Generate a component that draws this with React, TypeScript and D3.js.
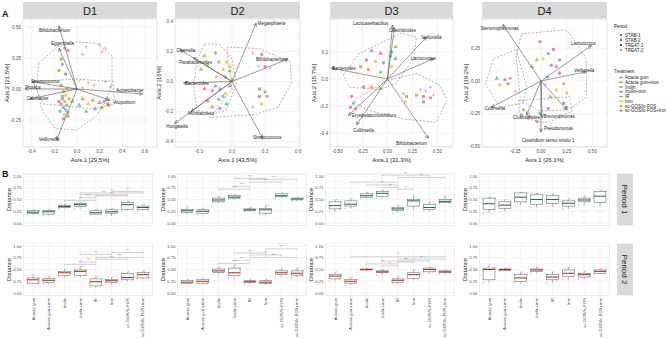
import React from 'react';
import * as d3 from 'd3';

const treatments = ['Acacia gum', 'Acacia gum+iron', 'Inulin', 'Inulin+iron', 'IR', 'Iron', 'sc-GOS/lc-FOS', 'sc-GOS/lc-FOS+iron'];
const treatmentColors = ['#1B9E77', '#D95F02', '#7570B3', '#E7298A', '#66A61E', '#E6AB02', '#A6761D', '#666666'];
const periods = ['STAB-1', 'STAB-2', 'TREAT-1', 'TREAT-2'];

// ordination scores: [axis1, axis2, treatment, period]
const pointsD1 = [
  [-0.12, -0.02, 1, 0], [-0.10, -0.05, 5, 0], [-0.13, -0.08, 0, 0], [-0.11, -0.10, 4, 0], [-0.14, -0.12, 3, 0],
  [-0.09, -0.13, 6, 0], [-0.12, -0.15, 0, 2], [-0.10, -0.17, 2, 0], [-0.15, -0.18, 0, 0], [-0.08, -0.19, 4, 2],
  [-0.11, -0.21, 5, 0], [-0.13, -0.06, 6, 2], [-0.07, -0.08, 1, 2], [-0.16, -0.10, 7, 0], [-0.09, 0.00, 5, 2],
  [-0.14, 0.03, 1, 0], [-0.08, -0.22, 0, 2], [-0.12, -0.24, 3, 2], [-0.11, 0.33, 3, 0], [-0.08, 0.31, 3, 2],
  [-0.14, 0.24, 6, 0], [-0.16, 0.15, 6, 2], [-0.13, 0.20, 2, 0], [-0.10, 0.12, 7, 2], [0.08, 0.34, 3, 3],
  [0.22, 0.30, 3, 3], [0.25, 0.33, 3, 3], [0.20, 0.36, 2, 3], [0.05, 0.28, 7, 3], [0.02, 0.06, 5, 3],
  [0.10, 0.05, 1, 3], [0.15, 0.03, 6, 3], [0.25, 0.06, 0, 3], [0.30, 0.02, 2, 3], [0.05, 0.01, 4, 3],
  [-0.04, -0.10, 4, 1], [0.02, -0.13, 0, 1], [0.05, -0.08, 1, 1], [0.10, -0.12, 5, 1], [0.14, -0.09, 6, 1],
  [0.20, -0.11, 3, 1], [0.22, -0.15, 1, 1], [0.26, -0.08, 4, 1], [0.28, -0.13, 7, 1], [0.16, -0.16, 0, 1],
  [0.08, -0.18, 2, 1], [0.24, -0.10, 0, 2], [0.27, -0.12, 1, 2],
];
const pointsD2 = [
  [0.19, 0.19, 3, 3], [0.27, 0.18, 3, 0], [0.24, 0.10, 2, 3], [0.35, 0.09, 3, 3], [0.30, 0.10, 3, 2],
  [0.25, -0.05, 7, 2], [0.30, -0.07, 1, 0], [0.32, -0.10, 6, 2], [0.25, -0.10, 7, 0], [0.19, -0.17, 7, 3],
  [0.27, -0.15, 5, 2], [-0.15, 0.19, 4, 0], [-0.25, 0.17, 4, 1], [-0.12, 0.13, 4, 2], [-0.28, 0.08, 4, 1],
  [-0.22, 0.11, 4, 0], [-0.05, 0.13, 5, 0], [-0.08, 0.08, 5, 1], [-0.02, 0.07, 4, 0], [-0.06, 0.03, 1, 0],
  [-0.15, -0.03, 2, 0], [-0.18, -0.06, 3, 0], [-0.11, -0.05, 3, 1], [-0.25, -0.05, 3, 1], [-0.02, -0.03, 2, 1],
  [-0.08, -0.10, 0, 0], [-0.12, -0.12, 2, 2], [-0.18, -0.17, 1, 1], [-0.11, -0.18, 3, 0], [-0.05, -0.15, 0, 1],
  [-0.22, -0.13, 1, 0], [-0.06, -0.08, 5, 1], [-0.14, 0.03, 5, 2], [0.00, 0.01, 1, 2], [-0.02, 0.10, 5, 0],
];
const pointsD3 = [
  [0.04, 0.20, 0, 0], [0.03, 0.17, 4, 0], [0.08, 0.15, 0, 1], [-0.07, 0.19, 3, 1], [-0.16, 0.21, 2, 1],
  [-0.21, 0.14, 3, 0], [-0.12, 0.13, 5, 0], [-0.04, 0.12, 0, 0], [-0.19, 0.07, 1, 0], [-0.27, 0.09, 6, 0],
  [-0.07, 0.05, 4, 0], [0.04, 0.09, 5, 0], [0.08, 0.24, 4, 1], [-0.36, -0.13, 3, 0], [-0.34, -0.18, 0, 2],
  [-0.37, -0.21, 3, 2], [-0.32, -0.22, 1, 0], [-0.24, -0.06, 3, 0], [-0.16, -0.06, 1, 1], [-0.07, -0.07, 4, 0],
  [0.16, -0.11, 5, 0], [0.19, -0.13, 7, 0], [0.29, -0.12, 6, 2], [0.36, -0.13, 3, 0], [0.33, -0.08, 3, 3],
  [0.43, -0.06, 3, 3], [0.46, -0.12, 3, 3], [0.36, -0.17, 7, 2], [0.18, -0.17, 5, 2], [0.43, -0.14, 3, 0],
  [0.38, -0.09, 7, 3],
];
const pointsD4 = [
  [-0.01, 0.30, 3, 0], [0.07, 0.21, 0, 2], [0.02, 0.17, 5, 0], [-0.04, 0.16, 4, 1], [0.10, 0.12, 3, 0],
  [0.15, 0.11, 2, 0], [-0.09, 0.11, 6, 1], [0.18, 0.06, 3, 2], [0.06, 0.03, 0, 0], [0.22, -0.02, 4, 0],
  [0.15, -0.07, 5, 1], [0.25, -0.09, 5, 0], [0.09, -0.12, 4, 1], [0.04, -0.03, 1, 3], [0.18, 0.16, 2, 0],
  [0.12, 0.24, 3, 0], [-0.43, 0.02, 0, 1], [-0.35, 0.01, 3, 0], [-0.32, -0.02, 7, 0], [-0.40, -0.03, 5, 0],
  [-0.25, -0.08, 1, 3], [-0.30, 0.02, 4, 0], [-0.17, -0.22, 4, 0], [-0.19, -0.26, 0, 0], [-0.11, -0.27, 3, 1],
  [-0.01, -0.25, 0, 0], [0.07, -0.21, 3, 0], [-0.04, -0.31, 3, 0], [0.22, -0.17, 7, 0], [0.25, -0.20, 2, 0],
];

// fitted taxa vectors: [taxon, tip axis1, tip axis2, label axis1, label axis2]
const arrowsD1 = [
  ['Bifidobacterium', -0.16, 0.51, -0.20, 0.47], ['Eggerthella', -0.16, 0.33, -0.13, 0.37],
  ['Streptococcus', -0.40, 0.06, -0.28, 0.065], ['Proteus', -0.46, 0.0, -0.39, 0.01],
  ['Citrobacter', -0.42, -0.08, -0.35, -0.08], ['Acinetobacter', 0.58, -0.04, 0.47, -0.01],
  ['Atopobium', 0.29, -0.09, 0.42, -0.11], ['Veillonella', -0.18, -0.41, -0.25, -0.41],
];
const arrowsD2 = [
  ['Megasphaera', 0.22, 0.39, 0.36, 0.39], ['Bifidobacterium', 0.51, 0.15, 0.36, 0.15],
  ['Olsenella', -0.47, 0.21, -0.42, 0.21], ['Parabacteroides', -0.35, 0.16, -0.33, 0.13],
  ['Bacteroides', -0.44, -0.01, -0.32, -0.01], ['Muribaculum', -0.37, -0.20, -0.28, -0.21],
  ['Hungatella', -0.52, -0.28, -0.50, -0.30], ['Streptococcus', 0.28, -0.38, 0.32, -0.37],
];
const arrowsD3 = [
  ['Lacticaseibacillus', 0.05, 0.40, -0.17, 0.41], ['Clostridioides', 0.07, 0.38, 0.15, 0.36],
  ['Veillonella', 0.39, 0.31, 0.44, 0.31], ['Lactococcus', 0.46, 0.15, 0.36, 0.15],
  ['Bacteroides', -0.56, 0.08, -0.435, 0.08], ['Erysipelatoclostridium', -0.39, -0.27, -0.135, -0.27],
  ['Collinsella', -0.31, -0.34, -0.24, -0.38], ['Bifidobacterium', 0.41, -0.44, 0.24, -0.48],
];
const arrowsD4 = [
  ['Stenotrophomonas', -0.37, 0.43, -0.40, 0.40], ['Lactococcus', 0.49, 0.27, 0.41, 0.29],
  ['Veillonella', 0.44, 0.07, 0.42, 0.08], ['Collinsella', -0.48, -0.20, -0.45, -0.21],
  ['Clostridium sensu stricto 1', 0.0, -0.39, 0.07, -0.45], ['Pseudomonas', 0.01, -0.28, 0.17, -0.36],
  ['Brevundimonas', 0.25, -0.22, 0.175, -0.27], ['Clostridioides', -0.14, -0.26, -0.14, -0.28],
];

// group outlines
const hullsD1 = [
  [[-0.34, 0.21], [-0.17, 0.34], [0.0, 0.38], [0.17, 0.37], [0.31, 0.27], [0.31, 0.05], [0.26, -0.09], [0.17, -0.22], [0.0, -0.33], [-0.19, -0.32], [-0.31, -0.17], [-0.36, 0.02]],
  [[-0.39, 0.06], [0.0, 0.08], [0.32, 0.06], [0.33, -0.12], [0.15, -0.16], [-0.30, -0.12]],
];
const hullsD2 = [
  [[-0.25, 0.25], [-0.12, 0.25], [0.0, 0.15], [0.04, -0.01], [-0.05, -0.19], [-0.18, -0.22], [-0.32, -0.19], [-0.35, -0.01], [-0.31, 0.15]],
  [[-0.05, 0.23], [0.24, 0.22], [0.53, 0.13], [0.54, -0.01], [0.42, -0.17], [0.21, -0.22], [-0.2, -0.24], [0.0, -0.05]],
];
const hullsD3 = [
  [[-0.44, 0.03], [-0.28, 0.19], [-0.08, 0.26], [0.14, 0.34], [0.29, 0.31], [0.26, 0.15], [0.09, -0.03], [-0.08, -0.08], [-0.38, -0.06]],
  [[0.0, -0.01], [0.29, 0.04], [0.53, -0.05], [0.59, -0.16], [0.49, -0.32], [0.19, -0.30], [-0.21, -0.23], [-0.34, -0.16]],
];
const hullsD4 = [
  [[-0.19, 0.36], [0.25, 0.39], [0.44, 0.17], [0.44, -0.12], [0.27, -0.22], [-0.01, -0.23], [-0.20, -0.15], [-0.24, 0.19]],
  [[-0.46, 0.17], [-0.24, 0.24], [-0.14, -0.04], [-0.17, -0.17], [-0.40, -0.20], [-0.54, -0.02]],
  [[-0.22, -0.15], [0.28, -0.12], [0.30, -0.23], [0.06, -0.32], [-0.20, -0.28]],
];

const xTicksD1 = [-0.4, -0.2, 0, 0.2, 0.4, 0.6];
const yTicksD1 = [-0.25, 0, 0.25, 0.5];
const xTicksD2 = [-0.3, 0, 0.3, 0.6];
const yTicksD2 = [-0.4, -0.2, 0, 0.2, 0.4];
const xTicksD3 = [-0.5, -0.25, 0, 0.25, 0.5];
const yTicksD3 = [-0.4, -0.2, 0, 0.2];
const xTicksD4 = [-0.25, 0, 0.25, 0.5];
const yTicksD4 = [-0.5, -0.25, 0, 0.25];

// distance boxplots: [lower whisker, q1, median, q3, upper whisker] per treatment
const boxD1P1 = [[0.17, 0.20, 0.23, 0.26, 0.28], [0.16, 0.19, 0.24, 0.27, 0.29], [0.31, 0.33, 0.35, 0.37, 0.40], [0.30, 0.35, 0.39, 0.42, 0.45], [0.17, 0.19, 0.22, 0.26, 0.29], [0.15, 0.21, 0.24, 0.28, 0.31], [0.27, 0.29, 0.39, 0.44, 0.46], [0.27, 0.29, 0.33, 0.36, 0.38]];
const boxD1P2 = [[0.20, 0.21, 0.28, 0.32, 0.40], [0.19, 0.22, 0.27, 0.31, 0.35], [0.34, 0.37, 0.43, 0.46, 0.51], [0.33, 0.37, 0.46, 0.49, 0.57], [0.12, 0.15, 0.24, 0.30, 0.36], [0.18, 0.22, 0.26, 0.29, 0.34], [0.25, 0.28, 0.33, 0.41, 0.45], [0.30, 0.32, 0.39, 0.44, 0.47]];
const boxD2P1 = [[0.19, 0.22, 0.26, 0.29, 0.35], [0.18, 0.21, 0.25, 0.28, 0.32], [0.42, 0.45, 0.49, 0.53, 0.56], [0.50, 0.53, 0.55, 0.58, 0.60], [0.24, 0.26, 0.28, 0.30, 0.33], [0.17, 0.21, 0.28, 0.31, 0.37], [0.53, 0.56, 0.58, 0.62, 0.64], [0.47, 0.49, 0.51, 0.53, 0.55]];
const boxD2P2 = [[0.19, 0.21, 0.23, 0.27, 0.29], [0.19, 0.21, 0.25, 0.29, 0.32], [0.40, 0.44, 0.47, 0.51, 0.55], [0.30, 0.37, 0.43, 0.53, 0.60], [0.19, 0.23, 0.24, 0.26, 0.30], [0.17, 0.20, 0.23, 0.26, 0.29], [0.34, 0.39, 0.43, 0.47, 0.52], [0.33, 0.38, 0.42, 0.47, 0.53]];
const boxD3P1 = [[0.24, 0.30, 0.37, 0.45, 0.50], [0.31, 0.36, 0.40, 0.47, 0.52], [0.52, 0.55, 0.58, 0.62, 0.65], [0.52, 0.57, 0.63, 0.67, 0.70], [0.21, 0.26, 0.30, 0.33, 0.38], [0.29, 0.36, 0.47, 0.50, 0.58], [0.24, 0.29, 0.33, 0.40, 0.45], [0.41, 0.43, 0.46, 0.50, 0.58]];
const boxD3P2 = [[0.26, 0.30, 0.36, 0.40, 0.45], [0.17, 0.21, 0.25, 0.29, 0.33], [0.48, 0.49, 0.50, 0.51, 0.53], [0.38, 0.43, 0.45, 0.47, 0.50], [0.20, 0.23, 0.27, 0.30, 0.36], [0.27, 0.31, 0.39, 0.43, 0.50], [0.41, 0.45, 0.50, 0.53, 0.55], [0.40, 0.43, 0.45, 0.47, 0.49]];
const boxD4P1 = [[0.22, 0.29, 0.41, 0.53, 0.55], [0.25, 0.31, 0.38, 0.45, 0.50], [0.38, 0.45, 0.55, 0.64, 0.66], [0.33, 0.40, 0.50, 0.60, 0.63], [0.35, 0.42, 0.50, 0.58, 0.62], [0.30, 0.36, 0.42, 0.47, 0.52], [0.38, 0.45, 0.49, 0.53, 0.58], [0.36, 0.44, 0.57, 0.67, 0.70]];
const boxD4P2 = [[0.22, 0.28, 0.50, 0.53, 0.60], [0.46, 0.48, 0.50, 0.51, 0.53], [0.20, 0.25, 0.32, 0.39, 0.45], [0.42, 0.46, 0.49, 0.51, 0.55], [0.22, 0.28, 0.34, 0.39, 0.45], [0.28, 0.35, 0.42, 0.49, 0.55], [0.29, 0.34, 0.39, 0.42, 0.47], [0.40, 0.42, 0.46, 0.49, 0.52]];

// pairwise comparisons: [from treatment, to treatment, height, label]
const sigD1P1 = [[5, 7, 0.67, '***'], [3, 7, 0.64, '***'], [3, 6, 0.60, '****'], [4, 6, 0.58, '***'], [3, 4, 0.54, '****'], [2, 4, 0.48, '***']];
const sigD1P2 = [[5, 7, 0.86, '***'], [3, 5, 0.82, '***'], [4, 7, 0.76, '****'], [4, 6, 0.72, '***'], [3, 4, 0.66, '****'], [2, 4, 0.61, '***']];
const sigD2P1 = [[3, 5, 0.95, '****'], [4, 7, 0.93, '****'], [4, 6, 0.87, '****'], [3, 4, 0.78, '****'], [2, 4, 0.72, '****']];
const sigD2P2 = [[5, 7, 0.94, '****'], [3, 5, 0.85, '****'], [4, 6, 0.81, '****'], [4, 7, 0.76, '****'], [3, 4, 0.69, '****'], [2, 4, 0.63, '****']];
const sigD3P1 = [[3, 6, 1.02, '***'], [4, 7, 0.97, '***'], [1, 4, 0.87, '**'], [2, 4, 0.81, '***'], [3, 4, 0.76, '***'], [4, 5, 0.72, '**']];
const sigD3P2 = [[1, 7, 0.77, '**'], [4, 7, 0.72, '***'], [3, 6, 0.68, '**'], [4, 5, 0.66, '***'], [2, 4, 0.62, '***'], [3, 4, 0.58, '**']];

const boxYTicks = [0, 0.25, 0.5, 0.75, 1];

const FONT = 'Liberation Sans, Arial, Helvetica, sans-serif';
const GRID = '#EBEBEB';
const GRID_MINOR = '#F5F5F5';

const ordPanels = [
  { title: 'D1', pts: pointsD1, arrows: arrowsD1, hulls: hullsD1, x0: 23, x1: 157, xDomain: [-0.478, 0.708], yDomain: [-0.468, 0.565], xTicks: xTicksD1, yTicks: yTicksD1, xFmt: '.1f', yFmt: '.2f', xLabel: 'Axis.1   [29.5%]', yLabel: 'Axis.2   [21.5%]' },
  { title: 'D2', pts: pointsD2, arrows: arrowsD2, hulls: hullsD2, x0: 175, x1: 300, xDomain: [-0.518, 0.618], yDomain: [-0.437, 0.417], xTicks: xTicksD2, yTicks: yTicksD2, xFmt: '.1f', yFmt: '.1f', xLabel: 'Axis.1   [43.5%]', yLabel: 'Axis.2   [16%]' },
  { title: 'D3', pts: pointsD3, arrows: arrowsD3, hulls: hullsD3, x0: 330, x1: 453, xDomain: [-0.575, 0.655], yDomain: [-0.504, 0.444], xTicks: xTicksD3, yTicks: yTicksD3, xFmt: '.2f', yFmt: '.1f', xLabel: 'Axis.1   [31.3%]', yLabel: 'Axis.2   [15.7%]' },
  { title: 'D4', pts: pointsD4, arrows: arrowsD4, hulls: hullsD4, x0: 482, x1: 607, xDomain: [-0.573, 0.641], yDomain: [-0.504, 0.473], xTicks: xTicksD4, yTicks: yTicksD4, xFmt: '.2f', yFmt: '.2f', xLabel: 'Axis.1   [26.1%]', yLabel: 'Axis.2   [19.2%]' },
];

const boxCols = [
  { x0: 23.6, x1: 152.4, rows: [[boxD1P1, sigD1P1], [boxD1P2, sigD1P2]] },
  { x0: 177.6, x1: 306.4, rows: [[boxD2P1, sigD2P1], [boxD2P2, sigD2P2]] },
  { x0: 325.6, x1: 454.4, rows: [[boxD3P1, sigD3P1], [boxD3P2, sigD3P2]] },
  { x0: 479.5, x1: 609.5, rows: [[boxD4P1, []], [boxD4P2, []]] },
];
const boxRows = [
  { y0: 173.65, y1: 225.35, label: 'Period 1', dot: '#3FA77F', median: '#1F5F52' },
  { y0: 243.65, y1: 295.35, label: 'Period 2', dot: '#E0605A', median: '#9E2B25' },
];

const fmt = (spec: string) => {
  const f = d3.format(spec);
  return (v: number) => f(v).replace('\u2212', '-');
};

function Shape({ x, y, p, color, r = 1.7 }: any) {
  if (p === 3) {
    return <path d={`M${x - r},${y}H${x + r}M${x},${y - r}V${y + r}`} stroke={color} strokeWidth={0.6} fill="none" />;
  }
  const type = [d3.symbolCircle, d3.symbolTriangle, d3.symbolSquare][p];
  const size = p === 0 ? Math.PI * r * r : p === 1 ? r * r * 3.2 : r * r * 3;
  const d = d3.symbol().type(type).size(size)();
  return <path d={d || ''} transform={`translate(${x},${y})`} fill={color} />;
}

function Ordination({ cfg }: any) {
  const top = 19, bottom = 147;
  const x = d3.scaleLinear().domain(cfg.xDomain).range([cfg.x0, cfg.x1]);
  const y = d3.scaleLinear().domain(cfg.yDomain).range([bottom, top]);
  const fx = fmt(cfg.xFmt), fy = fmt(cfg.yFmt);
  const stepX = cfg.xTicks[1] - cfg.xTicks[0];
  const stepY = cfg.yTicks[1] - cfg.yTicks[0];
  const minorX = [cfg.xTicks[0] - stepX / 2, ...cfg.xTicks.map((t: number) => t + stepX / 2)].filter((t: number) => t > cfg.xDomain[0] && t < cfg.xDomain[1]);
  const minorY = [cfg.yTicks[0] - stepY / 2, ...cfg.yTicks.map((t: number) => t + stepY / 2)].filter((t: number) => t > cfg.yDomain[0] && t < cfg.yDomain[1]);
  const hullLine = d3.line().x((d: any) => x(d[0])).y((d: any) => y(d[1])).curve(d3.curveLinearClosed);
  const cx = (cfg.x0 + cfg.x1) / 2;
  return (
    <g>
      <rect x={cfg.x0} y={2} width={cfg.x1 - cfg.x0} height={16.5} fill="#D9D9D9" />
      <text x={cx} y={14.5} textAnchor="middle" fontSize={11} fill="#1A1A1A">{cfg.title}</text>
      <rect x={cfg.x0} y={top} width={cfg.x1 - cfg.x0} height={bottom - top} fill="#fff" />
      {minorX.map((t: number) => <line key={'mx' + t} x1={x(t)} x2={x(t)} y1={top} y2={bottom} stroke={GRID_MINOR} strokeWidth={0.4} />)}
      {minorY.map((t: number) => <line key={'my' + t} y1={y(t)} y2={y(t)} x1={cfg.x0} x2={cfg.x1} stroke={GRID_MINOR} strokeWidth={0.4} />)}
      {cfg.xTicks.map((t: number) => <line key={'gx' + t} x1={x(t)} x2={x(t)} y1={top} y2={bottom} stroke={GRID} strokeWidth={0.6} />)}
      {cfg.yTicks.map((t: number) => <line key={'gy' + t} y1={y(t)} y2={y(t)} x1={cfg.x0} x2={cfg.x1} stroke={GRID} strokeWidth={0.6} />)}
      <rect x={cfg.x0} y={top} width={cfg.x1 - cfg.x0} height={bottom - top} fill="none" stroke="#C8C8C8" strokeWidth={0.5} />
      {cfg.hulls.map((h: any, i: number) => (
        <path key={'h' + i} d={hullLine(h) || ''} fill="none" stroke="#7F7F7F" strokeWidth={0.6} strokeDasharray="2,1.6" />
      ))}
      {cfg.pts.map((p: any, i: number) => (
        <g key={'p' + i} opacity={0.58}>
          <Shape x={x(p[0])} y={y(p[1])} p={p[3]} color={treatmentColors[p[2]]} />
        </g>
      ))}
      {cfg.arrows.map((a: any, i: number) => (
        <line key={'a' + i} x1={x(0)} y1={y(0)} x2={x(a[1])} y2={y(a[2])} stroke="#555" strokeWidth={0.6} markerEnd="url(#vec)" />
      ))}
      {cfg.arrows.map((a: any, i: number) => (
        <text key={'al' + i} x={x(a[3])} y={y(a[4])} dy="0.35em" textAnchor="middle" fontSize={4.5} fill="#222">{a[0]}</text>
      ))}
      {cfg.xTicks.map((t: number) => (
        <text key={'tx' + t} x={x(t)} y={bottom + 6} textAnchor="middle" fontSize={4.6} fill="#4D4D4D">{fx(t)}</text>
      ))}
      {cfg.yTicks.map((t: number) => (
        <text key={'ty' + t} x={cfg.x0 - 2} y={y(t)} dy="0.35em" textAnchor="end" fontSize={4.6} fill="#4D4D4D">{fy(t)}</text>
      ))}
      <text x={cx} y={161.5} textAnchor="middle" fontSize={6} fill="#1A1A1A">{cfg.xLabel}</text>
      <text transform={`translate(${cfg.x0 - 14},${(top + bottom) / 2}) rotate(-90)`} textAnchor="middle" fontSize={6} fill="#1A1A1A">{cfg.yLabel}</text>
    </g>
  );
}

function BoxPanel({ x0, x1, row, boxes, sigs, showX }: any) {
  const x = d3.scalePoint().domain(treatments).range([x0, x1]).padding(0.6);
  const y = d3.scaleLinear().domain([-0.05, 1.05]).range([row.y1, row.y0]);
  const step = x.step();
  const w = step * 0.75;
  const f = fmt('.2f');
  const jitter = [-0.22, 0.18, -0.05, 0.25, 0.05];
  return (
    <g>
      <rect x={x0} y={row.y0} width={x1 - x0} height={row.y1 - row.y0} fill="#fff" />
      {[0.125, 0.375, 0.625, 0.875].map(t => <line key={'m' + t} x1={x0} x2={x1} y1={y(t)} y2={y(t)} stroke={GRID_MINOR} strokeWidth={0.4} />)}
      {boxYTicks.map(t => <line key={'g' + t} x1={x0} x2={x1} y1={y(t)} y2={y(t)} stroke={GRID} strokeWidth={0.6} />)}
      {treatments.map(t => <line key={'v' + t} x1={x(t)} x2={x(t)} y1={row.y0} y2={row.y1} stroke={GRID} strokeWidth={0.6} />)}
      <rect x={x0} y={row.y0} width={x1 - x0} height={row.y1 - row.y0} fill="none" stroke="#DDDDDD" strokeWidth={0.5} />
      {boxes.map((b: number[], i: number) => {
        const cx = x(treatments[i]) as number;
        return (
          <g key={'b' + i}>
            <line x1={cx} x2={cx} y1={y(b[0])} y2={y(b[1])} stroke="#444" strokeWidth={0.4} />
            <line x1={cx} x2={cx} y1={y(b[3])} y2={y(b[4])} stroke="#444" strokeWidth={0.4} />
            <rect x={cx - w / 2} y={y(b[3])} width={w} height={y(b[1]) - y(b[3])} fill="#fff" stroke="#444" strokeWidth={0.45} />
            <line x1={cx - w / 2} x2={cx + w / 2} y1={y(b[2])} y2={y(b[2])} stroke={row.median} strokeWidth={1} />
            {b.map((v, j) => <circle key={j} cx={cx + jitter[j] * step * 1.6} cy={y(v)} r={0.55} fill={row.dot} opacity={0.8} />)}
          </g>
        );
      })}
      {sigs.map((s: any, i: number) => {
        const xa = x(treatments[s[0]]) as number, xb = x(treatments[s[1]]) as number, yy = y(s[2]);
        return (
          <g key={'s' + i}>
            <path d={`M${xa},${yy + 1}V${yy}H${xb}V${yy + 1}`} fill="none" stroke="#9A9A9A" strokeWidth={0.45} />
            <text x={(xa + xb) / 2} y={yy - 0.5} textAnchor="middle" fontSize={2.6} fill="#777">{s[3]}</text>
          </g>
        );
      })}
      {boxYTicks.map(t => (
        <text key={'ty' + t} x={x0 - 2} y={y(t)} dy="0.35em" textAnchor="end" fontSize={4.3} fill="#4D4D4D">{f(t)}</text>
      ))}
      <text transform={`translate(${x0 - 13},${(row.y0 + row.y1) / 2}) rotate(-90)`} textAnchor="middle" fontSize={6} fill="#1A1A1A">Distance</text>
      {showX && treatments.map(t => (
        <text key={'tx' + t} transform={`translate(${x(t)},${row.y1 + 2.5}) rotate(-90)`} dy="0.35em" textAnchor="end" fontSize={4.3} fill="#4D4D4D">{t}</text>
      ))}
    </g>
  );
}

function Legend() {
  const lx = 614;
  return (
    <g fontSize={4.5} fill="#1A1A1A">
      <text x={lx} y={28}>Period</text>
      {periods.map((p, i) => (
        <g key={p}>
          <Shape x={lx + 7} y={35 + i * 5} p={i} color="#4D4D4D" r={1.1} />
          <text x={lx + 11} y={35 + i * 5} dy="0.35em">{p}</text>
        </g>
      ))}
      <text x={lx} y={72.5}>Treatment</text>
      {treatments.map((t, i) => {
        const yy = 77.5 + i * 4.75;
        return (
          <g key={t}>
            <line x1={lx + 4.5} x2={lx + 9.5} y1={yy} y2={yy} stroke={treatmentColors[i]} strokeWidth={0.5} />
            <Shape x={lx + 7} y={yy} p={3} color={treatmentColors[i]} r={1.1} />
            <text x={lx + 11} y={yy} dy="0.35em">{t}</text>
          </g>
        );
      })}
    </g>
  );
}

export default function App() {
  return (
    <svg width={666} height={339} viewBox="0 0 666 339" style={{ position: 'absolute', left: 0, top: 0, background: '#fff', fontFamily: FONT }}>
      <defs>
        <marker id="vec" viewBox="0 0 6 6" refX={5.5} refY={3} markerWidth={4} markerHeight={4} markerUnits="userSpaceOnUse" orient="auto">
          <path d="M0,0.5L5.5,3L0,5.5" fill="none" stroke="#555" strokeWidth={0.9} />
        </marker>
      </defs>
      <rect width={666} height={339} fill="#fff" />
      <text x={2} y={17} fontSize={9} fontWeight="bold" fill="#111">A</text>
      <text x={2} y={177} fontSize={9} fontWeight="bold" fill="#111">B</text>
      {ordPanels.map(cfg => <Ordination key={cfg.title} cfg={cfg} />)}
      <Legend />
      {boxCols.map((c, ci) => c.rows.map((r: any, ri: number) => (
        <BoxPanel key={ci + '-' + ri} x0={c.x0} x1={c.x1} row={boxRows[ri]} boxes={r[0]} sigs={r[1]} showX={ri === 1} />
      )))}
      {boxRows.map(r => (
        <g key={r.label}>
          <rect x={617} y={r.y0} width={16} height={r.y1 - r.y0} fill="#D9D9D9" />
          <text transform={`translate(${625},${(r.y0 + r.y1) / 2}) rotate(90)`} dy="0.35em" textAnchor="middle" fontSize={8} fill="#1A1A1A">{r.label}</text>
        </g>
      ))}
    </svg>
  );
}
